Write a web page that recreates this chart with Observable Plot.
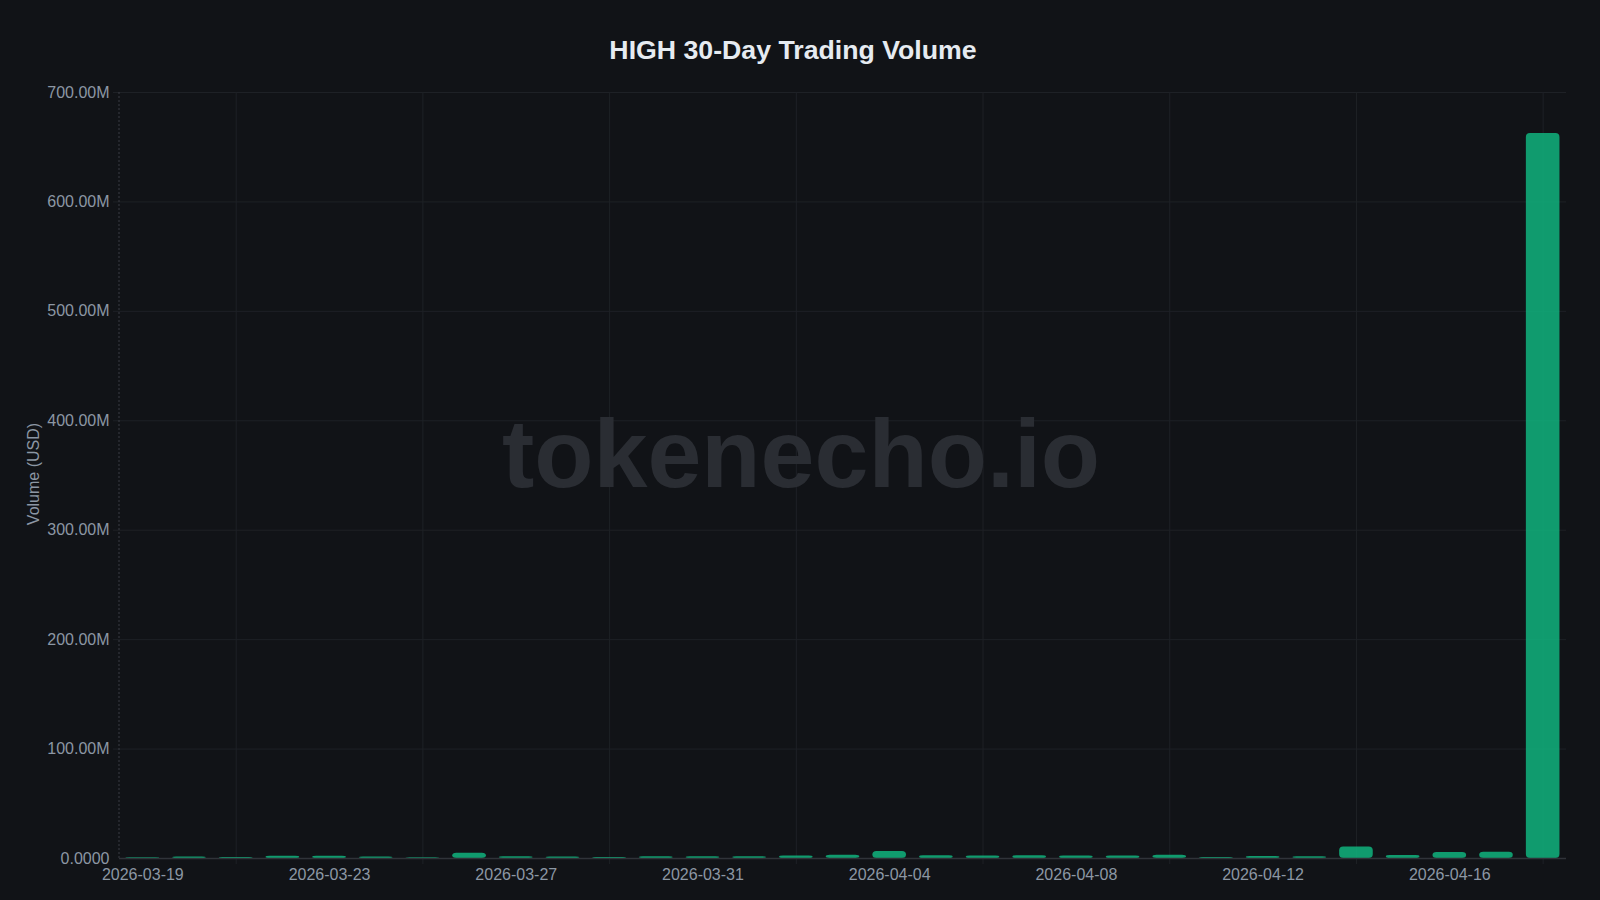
<!DOCTYPE html>
<html><head><meta charset="utf-8">
<script src="https://cdn.jsdelivr.net/npm/d3@7"></script>
<script src="https://cdn.jsdelivr.net/npm/@observablehq/plot@0.6"></script>
<style>
html,body{margin:0;padding:0;background:#111317;}
#wrap{position:relative;width:1600px;height:900px;overflow:hidden;}
#title{position:absolute;left:0;top:37px;width:1586px;text-align:center;font:bold 26.7px "Liberation Sans",Arial,sans-serif;line-height:26px;color:#e6ebf1;z-index:2;}
#ylabel{position:absolute;left:-66px;top:466px;width:200px;text-align:center;font:16px "Liberation Sans",Arial,sans-serif;line-height:16px;color:#8c97a4;transform:rotate(-90deg);transform-origin:center center;z-index:2;}
#chart{position:absolute;left:0;top:0;}
</style></head><body>
<div id="wrap"><div id="title">HIGH 30-Day Trading Volume</div><div id="ylabel"></div><div id="chart"></div></div>
<script>
const dates = ["2026-03-19","2026-03-20","2026-03-21","2026-03-22","2026-03-23","2026-03-24","2026-03-25","2026-03-26","2026-03-27","2026-03-28","2026-03-29","2026-03-30","2026-03-31","2026-04-01","2026-04-02","2026-04-03","2026-04-04","2026-04-05","2026-04-06","2026-04-07","2026-04-08","2026-04-09","2026-04-10","2026-04-11","2026-04-12","2026-04-13","2026-04-14","2026-04-15","2026-04-16","2026-04-17","2026-04-18"];
const volumesM = [0.6,1.3,0.8,2.0,2.0,1.4,0.7,4.9,1.6,1.3,0.9,1.5,1.5,1.7,2.3,3.0,6.4,2.5,2.3,2.5,2.3,2.3,3.0,0.8,1.8,1.6,10.4,2.7,5.5,5.8,662.5];
const labelDates = ["2026-03-19","2026-03-23","2026-03-27","2026-03-31","2026-04-04","2026-04-08","2026-04-12","2026-04-16"];
const gridDates = ["2026-03-21","2026-03-25","2026-03-29","2026-04-02","2026-04-06","2026-04-10","2026-04-14","2026-04-18"];
const yTicks = [0,100e6,200e6,300e6,400e6,500e6,600e6,700e6];
const yLabel = "Volume (USD)";
const watermark = "tokenecho.io";

document.getElementById("ylabel").textContent = yLabel;

const data = dates.map((d, i) => ({date: d, volume: volumesM[i] * 1e6}));
const fmt = v => v === 0 ? "0.0000" : (v / 1e6).toFixed(2) + "M";

const yAxisLine = (index, scales, values, dims) => {
  return d3.create("svg:line")
    .attr("x1", dims.marginLeft).attr("x2", dims.marginLeft)
    .attr("y1", dims.marginTop).attr("y2", dims.height - dims.marginBottom)
    .attr("stroke", "#3a3d44").attr("stroke-dasharray", "2,2").node();
};

const chart = Plot.plot({
  width: 1600, height: 900,
  marginTop: 92, marginBottom: 42, marginLeft: 119, marginRight: 34,
  style: {background: "transparent", color: "#8c97a4", fontFamily: "'Liberation Sans', Arial, sans-serif", fontSize: "16px"},
  x: {type: "band", domain: dates, paddingInner: 0.28, paddingOuter: 0.14, round: false},
  y: {domain: [0, 700e6]},
  marks: [
    Plot.ruleY(yTicks.slice(1), {stroke: "#1e2126", insetLeft: -6}),
    Plot.ruleX(gridDates, {stroke: "#1e2126", insetBottom: -6}),
    Plot.text([watermark], {frameAnchor: "middle", dx: -42, dy: -20, fontSize: 97, fontWeight: "bold", fill: "#2a2d33"}),
    yAxisLine,
    Plot.barY(data, {x: "date", y: "volume", fill: "#10b981", fillOpacity: 0.82, rx: 4}),
    Plot.ruleY([0], {stroke: "#303339", strokeWidth: 1.5}),
    Plot.axisX({ticks: labelDates, tickSize: 0, tickPadding: 10, fontSize: 16, label: null}),
    Plot.axisY({ticks: yTicks, tickSize: 0, tickPadding: 10, tickFormat: fmt, fontSize: 16, label: null})
  ]
});
document.getElementById("chart").appendChild(chart);
</script>
</body></html>
